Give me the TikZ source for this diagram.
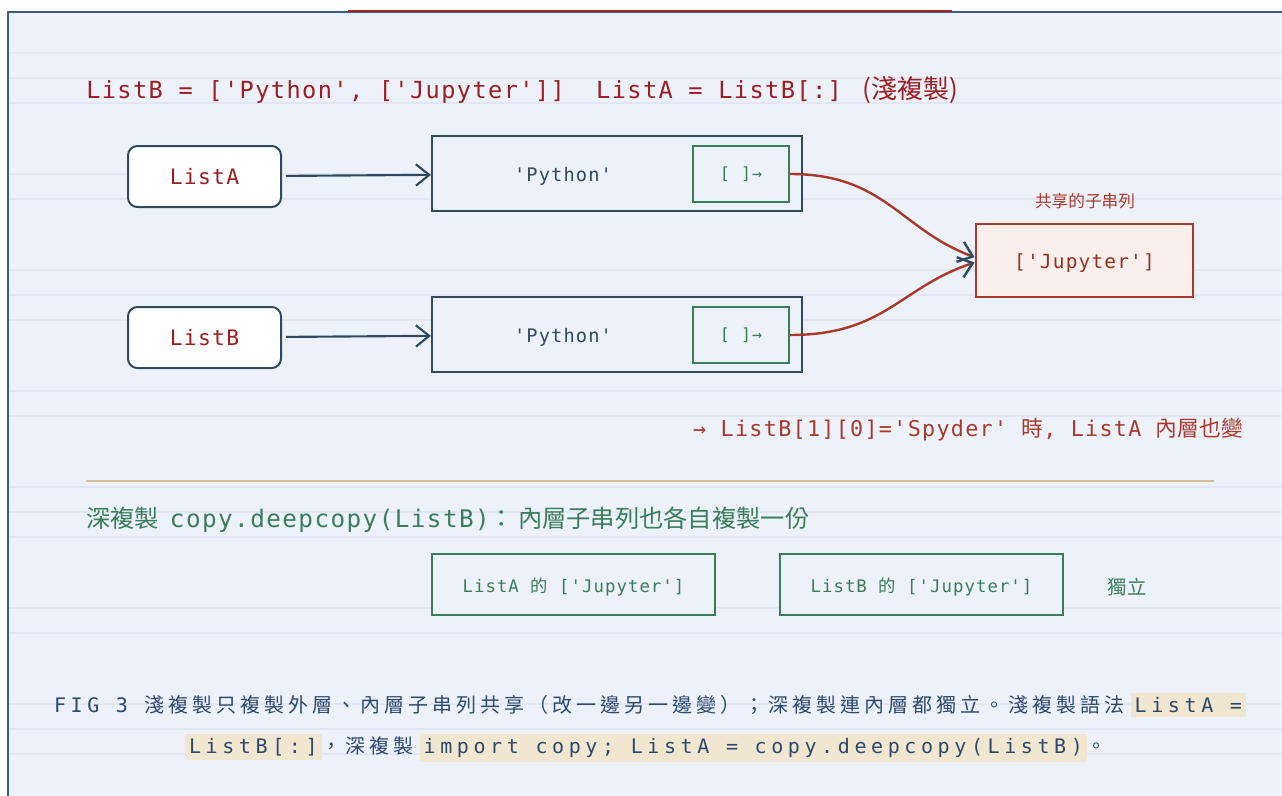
\documentclass[tikz,border=0pt]{standalone}
\usepackage{fontspec}
\usetikzlibrary{arrows.meta}
\newfontfamily\mono[LetterSpace=6]{DejaVu Sans Mono}
\newfontfamily\cjk{Noto Sans CJK TC}
\newfontfamily\capmono[LetterSpace=23]{DejaVu Sans Mono}
\newfontfamily\capcjk[LetterSpace=20]{Noto Sans CJK TC}
\definecolor{bgpanel}{HTML}{EDF1FA}
\definecolor{ruleline}{HTML}{E1E6F2}
\definecolor{frameblue}{HTML}{3B5B8C}
\definecolor{topred}{HTML}{A3262A}
\definecolor{slate}{HTML}{2E4A5C}
\definecolor{codered}{HTML}{9B1F22}
\definecolor{rust}{HTML}{A83A2B}
\definecolor{rustfill}{HTML}{FAEFEB}
\definecolor{deepgreen}{HTML}{3A7D5A}
\definecolor{sepgold}{HTML}{D8BE98}
\definecolor{capblue}{HTML}{2C4A6E}
\definecolor{hilite}{HTML}{F1E7D0}
\newcommand{\hlcode}[1]{{\setlength{\fboxsep}{3pt}\colorbox{hilite}{\capmono #1}}}
\begin{document}
\begin{tikzpicture}[x=0.75pt, y=-0.75pt]
        \tikzstyle{framebar} = [draw=frameblue, line width=1.5pt]
        \tikzstyle{ruled} = [draw=ruleline, line width=1.1pt]
        \tikzstyle{var} = [draw=slate, fill=white, line width=1.5pt, rounded corners=7pt, minimum width=114.75pt, minimum height=45.75pt, text=codered, font=\fontsize{16}{18}\selectfont\mono]
        \tikzstyle{outerbox} = [draw=slate, fill=bgpanel, line width=1.6pt, minimum width=277.5pt, minimum height=56.25pt]
        \tikzstyle{slot} = [draw=deepgreen, fill=bgpanel, line width=1.5pt, minimum width=72pt, minimum height=42pt, text=deepgreen, font=\fontsize{12.5}{14}\selectfont\mono]
        \tikzstyle{shared} = [draw=rust, fill=rustfill, line width=2.2pt, minimum width=162.75pt, minimum height=54.75pt]
        \tikzstyle{copybox} = [draw=deepgreen, fill=bgpanel, line width=1.5pt, minimum width=212.25pt, minimum height=45.75pt]
        \tikzstyle{ptr} = [draw=slate, line width=1.6pt, -{Straight Barb[length=10pt, width=16pt]}]
        \tikzstyle{ref} = [draw=rust, line width=1.8pt, -{Straight Barb[length=10pt, width=16pt, color=slate]}]
        \tikzstyle{plain} = [inner sep=0pt, anchor=west]

        % page and ruled panel
        \useasboundingbox (0,0) rectangle (1282,796);
        \fill[white] (0,0) rectangle (1282,796);
        \fill[bgpanel] (8,12) rectangle (1282,796);
        \foreach \ly in {53,78,103,174,199,270,295,320,391,416,487,512,537,608,633,704,729,754}
            \draw[ruled] (9,\ly) -- (1282,\ly);
        \draw[framebar] (8,796) -- (8,12) -- (1282,12);
        \draw[draw=topred, line width=1.5pt] (348,10.5) -- (952,10.5);

        % shallow copy
        \node[plain, text=codered] (header) at (86,90) {\fontsize{17.7}{20}\selectfont\mono ListB = ['Python', ['Jupyter']]\ \ ListA = ListB[:] {\fontsize{19.5}{22}\selectfont\cjk (淺複製)}};

        \node[var] (lista) at (204.5,176.5) {ListA};
        \node[var] (listb) at (204.5,337.5) {ListB};
        \node[outerbox] (outa) at (617,173.5) {};
        \node[outerbox] (outb) at (617,334.5) {};
        \node[text=slate, font=\fontsize{14}{16}\selectfont\mono] (pya) at (563,176) {'Python'};
        \node[text=slate, font=\fontsize{14}{16}\selectfont\mono] (pyb) at (563,337) {'Python'};
        \node[slot] (slota) at (741,174) {[ ]→};
        \node[slot] (slotb) at (741,335) {[ ]→};
        \node[shared] (jup) at (1084.5,260.5) {};
        \node[text=rust!85!black, font=\fontsize{14.6}{16}\selectfont\mono] (juptext) at (1084.5,263) {['Jupyter']};
        \node[text=rust, font=\fontsize{12.5}{14}\selectfont\cjk] (sharedlbl) at (1085,201) {共享的子串列};

        \path[ptr, shorten <=3pt] (lista) to (outa);
        \path[ptr, shorten <=3pt] (listb) to (outb);
        \draw[ref] (slota.east) .. controls +(95,0) and +(-75,-28) .. ([yshift=2.5pt]jup.west);
        \draw[ref] (slotb.east) .. controls +(95,0) and +(-75,25) .. ([yshift=-1.5pt]jup.west);

        \node[plain, anchor=east, text=rust] (note) at (1243,430) {\fontsize{16.3}{18}\selectfont\mono → ListB[1][0]='Spyder' {\cjk 時}, ListA {\cjk 內層也變}};

        % deep copy
        \draw[draw=sepgold, line width=0.9pt] (86,481) -- (1214,481);
        \node[plain, text=deepgreen] (deephead) at (86,520) {\fontsize{18.2}{20}\selectfont\cjk 深複製\ \ {\mono copy.deepcopy(ListB)}：\,內層子串列也各自複製一份};
        \node[copybox] (copya) at (573.5,584.5) {};
        \node[copybox] (copyb) at (921.5,584.5) {};
        \node[text=deepgreen, font=\fontsize{13}{15}\selectfont\mono] (copyatext) at (573.5,587) {ListA {\cjk 的} ['Jupyter']};
        \node[text=deepgreen, font=\fontsize{13}{15}\selectfont\mono] (copybtext) at (921.5,587) {ListB {\cjk 的} ['Jupyter']};
        \node[text=deepgreen, font=\fontsize{14.5}{16}\selectfont\cjk] (indep) at (1127,587) {獨立};

        % caption
        \node[text=capblue, font=\fontsize{15}{17}\selectfont] (capone) at (650,705) {{\capmono FIG 3\ }{\capcjk 淺複製只複製外層、內層子串列共享（改一邊另一邊變）；深複製連內層都獨立。淺複製語法} \hlcode{ListA =}};
        \node[text=capblue, font=\fontsize{15}{17}\selectfont] (captwo) at (646,748) {\hlcode{ListB[:]}{\capcjk ，深複製} \hlcode{import copy; ListA = copy.deepcopy(ListB)}{\capcjk 。}};
    \end{tikzpicture}
\end{document}
